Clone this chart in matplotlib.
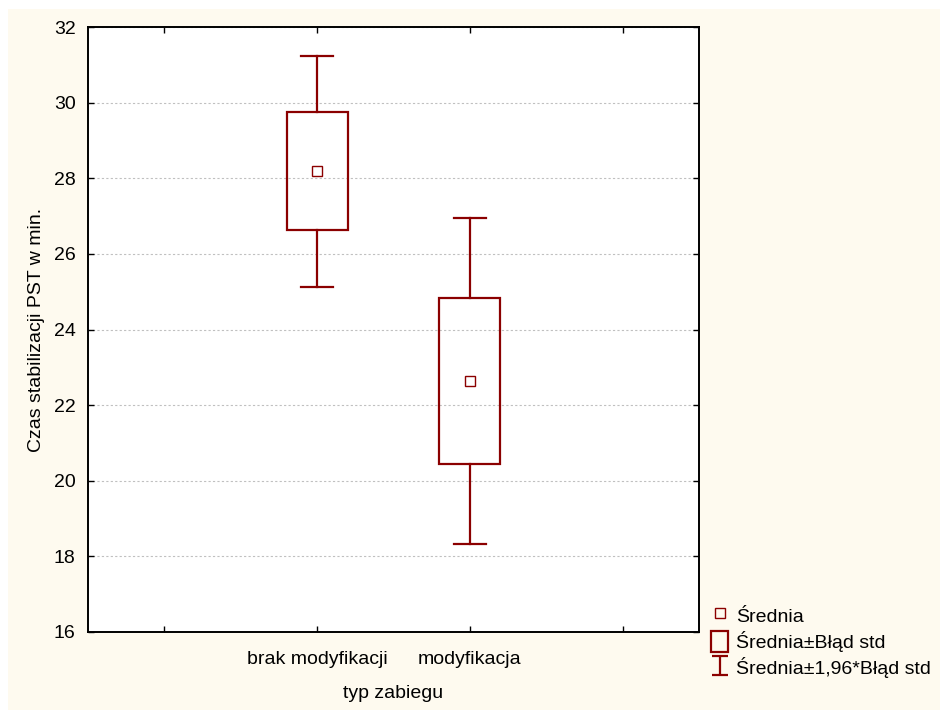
import numpy as np
import matplotlib
matplotlib.use("Agg")
import matplotlib.pyplot as plt
from matplotlib.patches import Rectangle
from matplotlib.lines import Line2D

plt.rcParams['font.family'] = ['Liberation Sans', 'DejaVu Sans']

# data
groups = ["brak modyfikacji", "modyfikacja"]
means = [28.18, 22.63]
se = [1.56, 2.20]
yticks = [16, 18, 20, 22, 24, 26, 28, 30, 32]

red = "#8b0000"
cream = "#fefaef"
fs = 14

fig = plt.figure(figsize=(9.4, 7.1), dpi=100)
fig.patch.set_facecolor("white")
fig.patches.append(Rectangle((8 / 940, 0), 1, 1 - 9 / 710, transform=fig.transFigure,
                             facecolor=cream, edgecolor="none", zorder=-10))

ax = fig.add_axes([88 / 940, 1 - 632 / 710, (699 - 88) / 940, (632 - 27) / 710])
ax.set_facecolor("white")

xs = np.arange(1, len(groups) + 1)
box_w = 0.4
for x, m, s in zip(xs, means, se):
    ax.add_patch(Rectangle((x - box_w / 2, m - s), box_w, 2 * s, facecolor="none",
                           edgecolor=red, lw=1.6, zorder=3))
    ax.plot([x, x], [m + s, m + 1.96 * s], color=red, lw=1.6, zorder=3)
    ax.plot([x, x], [m - s, m - 1.96 * s], color=red, lw=1.6, zorder=3)
    for y in (m + 1.96 * s, m - 1.96 * s):
        ax.plot([x - 0.105, x + 0.105], [y, y], color=red, lw=1.6, zorder=3)
ax.plot(xs, means, ls="none", marker="s", ms=6.5, mfc="none", mec=red, mew=1.0, zorder=4)

ax.set_xlim(-0.5, 3.5)
ax.set_ylim(16, 32)
ax.set_yticks(yticks)
ax.set_xticks([0, 1, 2, 3])
ax.set_xticklabels(["", groups[0], groups[1], ""])
ax.tick_params(direction="in", length=4, width=1, labelsize=fs, top=True, right=True)
ax.tick_params(axis="y", pad=9)
ax.tick_params(axis="x", pad=14)
ax.grid(axis="y", color="#c0c0c0", ls=(0, (2, 2)), lw=0.8)
for sp in ax.spines.values():
    sp.set_linewidth(1.4)
ax.set_axisbelow(True)

ax.set_xlabel("typ zabiegu", fontsize=fs, labelpad=12)
ax.set_ylabel("Czas stabilizacji PST w min.", fontsize=fs, labelpad=6)

# legend
h_mean = Line2D([], [], ls="none", marker="s", ms=6.5, mfc="none", mec=red, mew=1.0)
h_box = Rectangle((0, 0), 1, 1, facecolor="none", edgecolor=red, lw=1.6)
h_err = ax.errorbar([np.nan], [np.nan], yerr=[1], fmt="none", ecolor=red, elinewidth=1.6,
                    capsize=6, capthick=1.6)
fig.legend([h_mean, h_box, h_err],
           ["Średnia", "Średnia±Błąd std", "Średnia±1,96*Błąd std"],
           loc="upper left", bbox_to_anchor=(703 / 940, 1 - 597 / 710),
           frameon=False, fontsize=fs, handlelength=0.9, handleheight=1.3,
           handletextpad=0.4, labelspacing=0.25, borderaxespad=0)

fig.savefig("out.png", dpi=100, facecolor=fig.get_facecolor())
